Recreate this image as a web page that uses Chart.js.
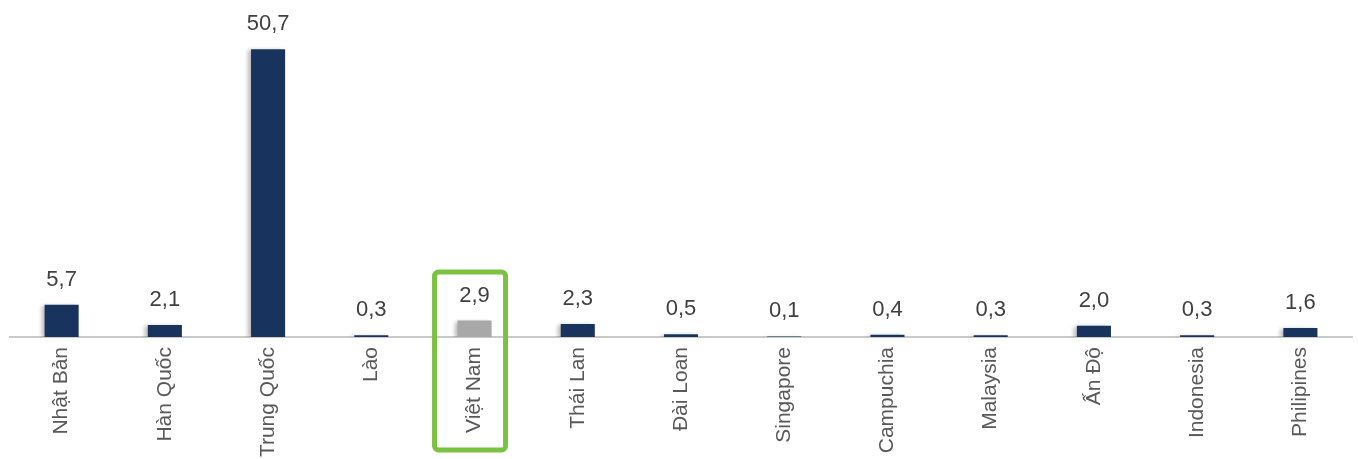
<!DOCTYPE html>
<html>
<head>
<meta charset="utf-8">
<script src="https://cdn.jsdelivr.net/npm/chart.js@4/dist/chart.umd.min.js"></script>
<style>
  html, body { margin: 0; padding: 0; background: #fff; }
  #wrap { width: 1358px; height: 459px; position: relative; }
</style>
</head>
<body>
<div id="wrap"><canvas id="c"></canvas></div>
<script>
const countries = ['Nhật Bản', 'Hàn Quốc', 'Trung Quốc', 'Lào', 'Việt Nam', 'Thái Lan', 'Đài Loan',
  'Singapore', 'Campuchia', 'Malaysia', 'Ấn Độ', 'Indonesia', 'Philipines']
const values = [5.7, 2.1, 50.7, 0.3, 2.9, 2.3, 0.5, 0.1, 0.4, 0.3, 2.0, 0.3, 1.6]
const highlight = 'Việt Nam'

const NAVY = '#17335e', GREY = '#a8a8a8', BOX = '#7cc242'

// value text above each bar, comma as decimal mark
const valueLabels = {
  id: 'valueLabels',
  afterDatasetsDraw(chart) {
    const ctx = chart.ctx
    const meta = chart.getDatasetMeta(0)
    ctx.save()
    ctx.font = '22px "Liberation Sans", Arial, sans-serif'
    ctx.fillStyle = '#404040'
    ctx.textAlign = 'center'
    ctx.textBaseline = 'bottom'
    meta.data.forEach((bar, i) => {
      ctx.fillText(values[i].toFixed(1).replace('.', ','), bar.x, bar.y - 14)
    })
    ctx.restore()
  }
}

// soft shadow under the bars
const barShadow = {
  id: 'barShadow',
  beforeDatasetDraw(chart) {
    const ctx = chart.ctx
    ctx.save()
    ctx.shadowColor = 'rgba(0,0,0,0.28)'
    ctx.shadowBlur = 4
    ctx.shadowOffsetX = -3
    ctx.shadowOffsetY = 1
  },
  afterDatasetDraw(chart) {
    chart.ctx.restore()
  }
}

// green frame round the highlighted country
const frame = {
  id: 'frame',
  afterDraw(chart) {
    const ctx = chart.ctx
    const x = chart.scales.x
    const cx = x.getPixelForValue(countries.indexOf(highlight))
    const base = chart.chartArea.bottom
    const left = cx - 40, right = cx + 31
    const top = base - 65, bottom = base + 113
    ctx.save()
    ctx.strokeStyle = BOX
    ctx.lineWidth = 5
    ctx.beginPath()
    ctx.roundRect(left, top, right - left, bottom - top, 4)
    ctx.stroke()
    ctx.restore()
  }
}

new Chart(document.getElementById('c'), {
  type: 'bar',
  data: {
    labels: countries,
    datasets: [{
      data: values,
      backgroundColor: countries.map(c => c === highlight ? GREY : NAVY),
      barPercentage: 0.33,
      categoryPercentage: 1
    }]
  },
  options: {
    responsive: true,
    maintainAspectRatio: false,
    animation: false,
    layout: { padding: { left: 10, right: 6, top: 0, bottom: 0 } },
    plugins: { legend: { display: false }, tooltip: { enabled: false } },
    scales: {
      x: {
        afterFit(scale) {
          scale.height = 122
          scale.paddingLeft = 0
          scale.paddingRight = 0
        },
        grid: { display: false, drawTicks: false },
        border: { display: true, color: '#c9c9c9', width: 2 },
        ticks: {
          minRotation: 90,
          maxRotation: 90,
          padding: 10,
          color: '#595959',
          font: { family: '"Liberation Sans", Arial, sans-serif', size: 21 }
        }
      },
      y: {
        display: false,
        min: 0,
        max: 59.4
      }
    }
  },
  plugins: [barShadow, valueLabels, frame]
})
</script>
</body>
</html>
